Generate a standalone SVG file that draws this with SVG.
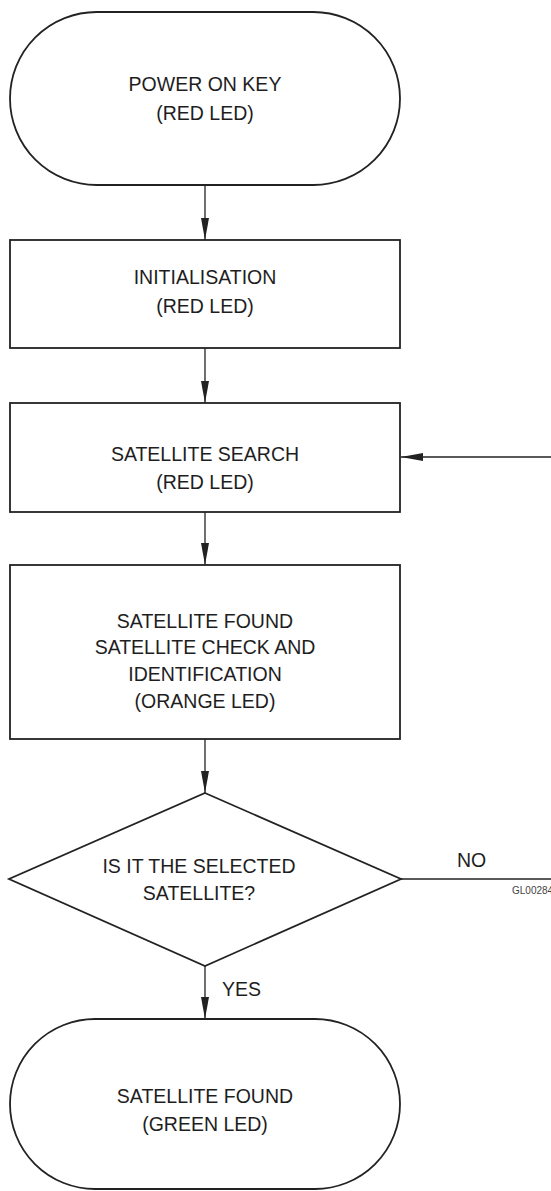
<svg xmlns="http://www.w3.org/2000/svg" width="551" height="1191" viewBox="0 0 551 1191">
<style>
.node{fill:#fff;stroke:#222;stroke-width:1.8}
.t{font-family:"Liberation Sans",Arial,sans-serif;font-size:19.5px;fill:#1e1e1e;text-anchor:middle}
.c{fill:none;stroke:#222;stroke-width:1.3}
.lbl{font-family:"Liberation Sans",Arial,sans-serif;font-size:19.5px;fill:#1e1e1e}
.code{font-family:"Liberation Sans",Arial,sans-serif;font-size:10px;fill:#444}
</style>
<defs>
<marker id="ah" markerUnits="userSpaceOnUse" markerWidth="23" markerHeight="9" refX="22" refY="4" orient="auto">
<path d="M0,0 L22,4 L0,8 Z" fill="#222"/>
</marker>
</defs>
<rect width="551" height="1191" fill="#fff"/>
<g id="connectors">
<line class="c" x1="205" y1="185" x2="205" y2="240" marker-end="url(#ah)"/>
<line class="c" x1="205" y1="348" x2="205" y2="403" marker-end="url(#ah)"/>
<line class="c" x1="205" y1="512" x2="205" y2="565" marker-end="url(#ah)"/>
<line class="c" x1="205" y1="739" x2="205" y2="793" marker-end="url(#ah)"/>
<line class="c" x1="205" y1="966" x2="205" y2="1019" marker-end="url(#ah)"/>
<line class="c" x1="401" y1="879" x2="551" y2="879"/>
<line class="c" x1="551" y1="457" x2="401" y2="457" marker-end="url(#ah)"/>
<text class="lbl" x="222" y="996">YES</text>
<text class="lbl" x="457" y="867">NO</text>
<text class="code" x="512" y="894">GL00284</text>
</g>
<g id="start">
<rect class="node" x="10" y="12" width="390" height="173" rx="86.5" ry="86.5"/>
<text class="t" x="205" y="91">POWER ON KEY</text>
<text class="t" x="205" y="120">(RED LED)</text>
</g>
<g id="init">
<rect class="node" x="10" y="240" width="390" height="108"/>
<text class="t" x="205" y="284">INITIALISATION</text>
<text class="t" x="205" y="313">(RED LED)</text>
</g>
<g id="search">
<rect class="node" x="10" y="403" width="390" height="109"/>
<text class="t" x="205" y="461">SATELLITE SEARCH</text>
<text class="t" x="205" y="489">(RED LED)</text>
</g>
<g id="found-check">
<rect class="node" x="10" y="565" width="390" height="174"/>
<text class="t" x="205" y="628">SATELLITE FOUND</text>
<text class="t" x="205" y="654">SATELLITE CHECK AND</text>
<text class="t" x="205" y="681">IDENTIFICATION</text>
<text class="t" x="205" y="708">(ORANGE LED)</text>
</g>
<g id="decision">
<polygon class="node" points="205,793 401,879 205,966 9,879"/>
<text class="t" x="199" y="873">IS IT THE SELECTED</text>
<text class="t" x="199" y="900">SATELLITE?</text>
</g>
<g id="end">
<rect class="node" x="10" y="1019" width="390" height="170" rx="85" ry="85"/>
<text class="t" x="205" y="1103">SATELLITE FOUND</text>
<text class="t" x="205" y="1131">(GREEN LED)</text>
</g>
</svg>
